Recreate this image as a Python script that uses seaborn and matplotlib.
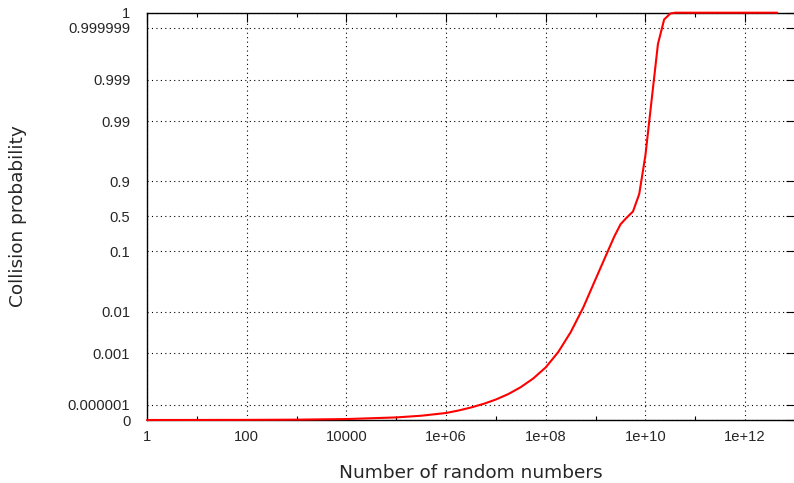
import numpy as np
import pandas as pd
import matplotlib
matplotlib.use("Agg")
import matplotlib.pyplot as plt
from matplotlib.ticker import FixedLocator, FixedFormatter, NullFormatter
import seaborn as sns

# values
n_values = [1, 10, 100, 1e3, 1e4, 1e5, 3.16e5, 1e6, 1.78e6, 3.16e6, 5.62e6, 1e7,
            1.78e7, 3.16e7, 5.62e7, 1e8, 1.78e8, 3.16e8, 5.62e8, 1e9, 1.78e9,
            2.37e9, 3.16e9, 4.22e9, 5.62e9, 7.5e9, 1e10, 1.33e10, 1.78e10,
            2.37e10, 3.16e10, 3.98e10, 1e11, 1e12, 4.4e12]
collision_prob = [0, 3e-18, 3e-16, 3e-14, 3e-12, 3e-10, 3e-9, 2.9e-8, 1.18e-7,
                  4.16e-7, 1.33e-6, 4.05e-6, 1.21e-5, 3.61e-5, 1.07e-4, 3.22e-4,
                  1.07e-3, 3.62e-3, 0.0119, 0.0375, 0.1026, 0.1685, 0.2734, 0.4077,
                  0.682, 0.8444, 0.9605, 0.9965, 0.9999713, 0.999999975,
                  0.9999999999986, 1.0, 1.0, 1.0, 1.0]

x_ticks = [1, 1e2, 1e4, 1e6, 1e8, 1e10, 1e12]
x_labels = ['1', '100', '10000', '1e+06', '1e+08', '1e+10', '1e+12']
x_minor = [1e1, 1e3, 1e5, 1e7, 1e9, 1e11]
y_ticks = [0, 0.000001, 0.001, 0.01, 0.1, 0.5, 0.9, 0.99, 0.999, 0.999999, 1]
y_labels = ['0', '0.000001', '0.001', '0.01', '0.1', '0.5', '0.9', '0.99', '0.999',
            '0.999999', '1']

df = pd.DataFrame({'n': n_values, 'p': collision_prob})

# symmetric squashed scale around 0.5 (fitted to the tick spacing)
A, K = 0.505, 0.61


def forward(p):
    p = np.asarray(p, dtype=float)
    m = np.clip(np.minimum(p, 1 - p), 1e-300, 0.5)
    L = np.log10(0.5 / m)
    z = A * L ** 2 / (L + K)
    f = -np.expm1(-z)
    return np.where(p < 0.5, -f, f)


def inverse(y):
    y = np.asarray(y, dtype=float)
    f = np.clip(np.abs(y), 0, 1 - 1e-16)
    z = -np.log1p(-f)
    L = (z + np.sqrt(z * z + 4 * A * K * z)) / (2 * A)
    m = 0.5 * 10 ** (-L)
    return np.where(y < 0, m, 1 - m)


sns.set_style("white")
tick_font = 'Liberation Sans'
label_font = 'DejaVu Sans'

fig = plt.figure(figsize=(7.94, 4.83), dpi=100)
ax = fig.add_axes([147 / 794, 63 / 483, 648 / 794, 407.3 / 483])

ax.set_xscale('log')
ax.set_yscale('function', functions=(forward, inverse))

sns.lineplot(data=df, x='n', y='p', ax=ax, color='#ff0000', linewidth=1.5,
             clip_on=False, zorder=4)

ax.set_xlim(1, 1e13)
ax.set_ylim(0, 1)

ax.xaxis.set_major_locator(FixedLocator(x_ticks))
ax.xaxis.set_major_formatter(FixedFormatter(x_labels))
ax.xaxis.set_minor_locator(FixedLocator(x_minor))
ax.xaxis.set_minor_formatter(NullFormatter())
ax.yaxis.set_major_locator(FixedLocator(y_ticks))
ax.yaxis.set_major_formatter(FixedFormatter(y_labels))
ax.yaxis.set_minor_locator(FixedLocator([]))

ax.tick_params(axis='both', which='major', direction='in', length=6.5, width=0.8,
               color='black', top=True, right=True, labelsize=10.6)
ax.tick_params(axis='x', which='minor', direction='in', length=3.2, width=0.8,
               color='black', top=True, bottom=True)
ax.tick_params(axis='x', which='major', pad=7)
ax.tick_params(axis='y', which='major', pad=12)
for lab in ax.get_xticklabels() + ax.get_yticklabels():
    lab.set_fontfamily(tick_font)

ax.grid(True, which='major', color='black', linestyle=(0, (1, 3)), linewidth=0.8)
ax.set_axisbelow(True)

for side in ['left', 'bottom', 'top', 'right']:
    ax.spines[side].set_visible(True)
    ax.spines[side].set_color('black')
    ax.spines[side].set_linewidth(1.0)

ax.set_xlabel('Number of random numbers', fontsize=13.3, family=label_font, labelpad=14.5)
ax.set_ylabel('Collision probability', fontsize=13.3, family=label_font, labelpad=29)

fig.savefig('out.png', dpi=100)
